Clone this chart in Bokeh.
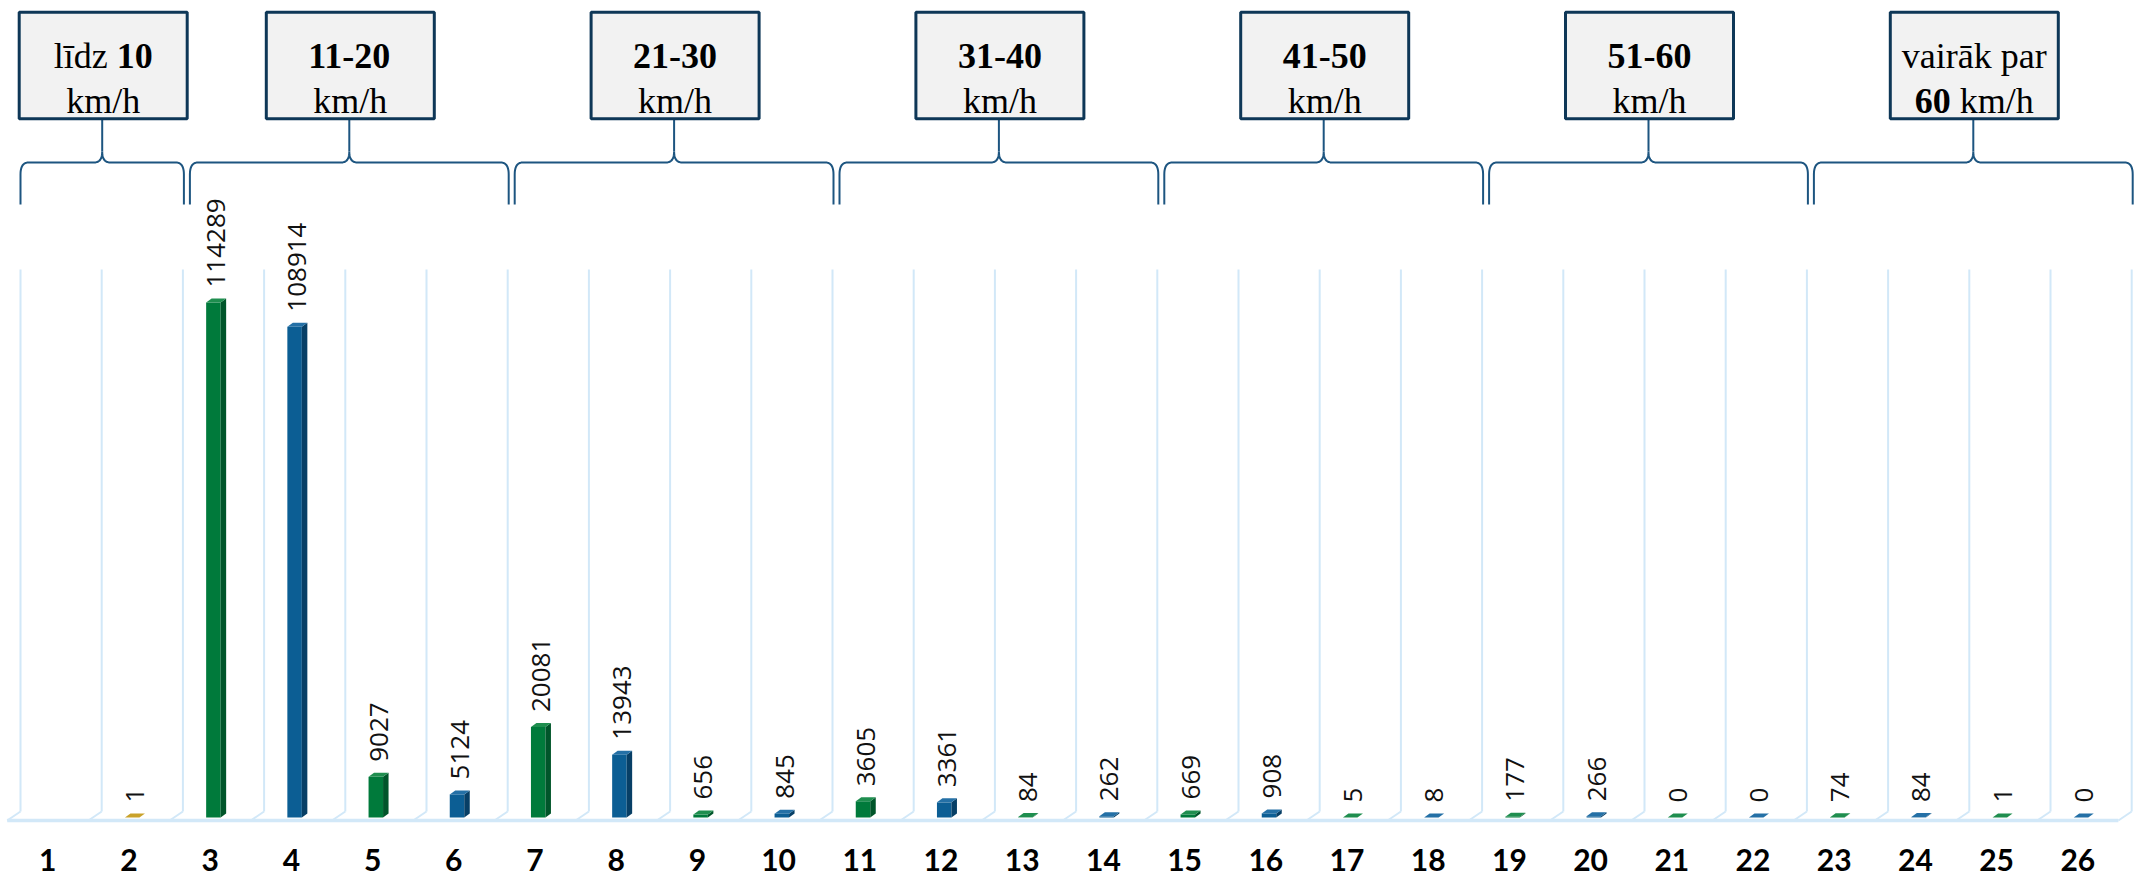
import math
from bokeh.plotting import figure
from bokeh.models import Range1d, ColumnDataSource
from bokeh.core.properties import value
from bokeh.embed import file_html
from bokeh.resources import INLINE

# ---------------- data ----------------
categories = list(range(1, 27))
counts = [None, 1, 114289, 108914, 9027, 5124, 20081, 13943, 656, 845,
          3605, 3361, 84, 262, 669, 908, 5, 8, 177, 266, 0, 0, 74, 84, 1, 0]
group_first = [1, 3, 7, 11, 15, 19, 23]
group_last = [2, 6, 10, 14, 18, 22, 26]
group_labels = [
    [[("līdz ", False), ("10", True)], [("km/h", False)]],
    [[("11-20", True)], [("km/h", False)]],
    [[("21-30", True)], [("km/h", False)]],
    [[("31-40", True)], [("km/h", False)]],
    [[("41-50", True)], [("km/h", False)]],
    [[("51-60", True)], [("km/h", False)]],
    [[("vairāk par", False)], [("60", True), (" km/h", False)]],
]

# ---------------- styling / layout constants ----------------
W, H = 2139, 878
CELL = 81.2          # px per category
FX0 = 6.7            # px of front-floor left edge
DEPTH_X, DEPTH_Y = 13.3, 9.3   # floor depth offsets (px)
ZERO_PY = 817.0      # page y of value 0 (bar front bottom)
K = 515.0 / 114289.0 # px per unit
BAR_W = 14.5 / CELL
BAR_SHIFT = 3.2 / CELL
SIDE_DX = 5.5 / CELL
SIDE_DY = 4.0 / K
LABEL_GAP = 15.0 / K

GREEN, GREEN_SIDE, GREEN_TOP = "#007A3B", "#00552A", "#1F8E4F"
BLUE, BLUE_SIDE, BLUE_TOP = "#0C5E94", "#073F66", "#2470A6"
GOLD, GOLD_SIDE, GOLD_TOP = "#C9A22A", "#9A7A18", "#C9A22A"
GRID = "#D2E8F8"
BRACE = "#1D5580"
BOX_LINE = "#0E3757"
BOX_FILL = "#F2F2F2"

x_start = 0.5 + (0 - FX0) / CELL
x_end = 0.5 + (W - FX0) / CELL

p = figure(width=W, height=H, min_border=0,
           x_range=Range1d(x_start, x_end),
           y_range=Range1d(-(H - ZERO_PY) / K, ZERO_PY / K),
           output_backend="svg", toolbar_location=None,
           x_axis_location=None, y_axis_location=None, outline_line_color=None)
p.extra_x_ranges = {"px": Range1d(0, W)}
p.extra_y_ranges = {"py": Range1d(H, 0)}
p.grid.visible = False
p.background_fill_color = "white"
p.border_fill_color = "white"

# ---------------- floor & back-wall grid ----------------
dxd = DEPTH_X / CELL
gx = [0.5 + k + dxd for k in range(27)]
fx = [0.5 + k for k in range(27)]
p.segment(x0=gx, x1=gx, y0=[269] * 27, y1=[811] * 27, y_range_name="py",
          line_color=GRID, line_width=2)
p.segment(x0=gx, x1=fx, y0=[811] * 27, y1=[820] * 27, y_range_name="py",
          line_color=GRID, line_width=2)
p.segment(x0=[0.5], x1=[26.5], y0=[820], y1=[820], y_range_name="py",
          line_color=GRID, line_width=3.5)

# ---------------- bars (3D look) ----------------
bx, bv, face, side, top = [], [], [], [], []
for c, v in zip(categories, counts):
    if v is None:
        continue
    bx.append(c)
    bv.append(v)
    if c == 2:
        face.append(GOLD); side.append(GOLD_SIDE); top.append(GOLD_TOP)
    elif c % 2 == 1:
        face.append(GREEN); side.append(GREEN_SIDE); top.append(GREEN_TOP)
    else:
        face.append(BLUE); side.append(BLUE_SIDE); top.append(BLUE_TOP)

left = [c + BAR_SHIFT - BAR_W / 2 for c in bx]
right = [c + BAR_SHIFT + BAR_W / 2 for c in bx]
p.quad(left=left, right=right, bottom=[0] * len(bx), top=bv,
       fill_color=face, line_color=None)
side_xs = [[r, r + SIDE_DX, r + SIDE_DX, r] for r in right]
side_ys = [[0, SIDE_DY, v + SIDE_DY, v] for v in bv]
p.patches(side_xs, side_ys, fill_color=side, line_color=None)
top_xs = [[l, r, r + SIDE_DX, l + SIDE_DX] for l, r in zip(left, right)]
top_ys = [[v, v, v + SIDE_DY, v + SIDE_DY] for v in bv]
p.patches(top_xs, top_ys, fill_color=top, line_color=None)

lab_src = ColumnDataSource(dict(
    x=[c + BAR_SHIFT + SIDE_DX / 2 for c in bx],
    y=[v + LABEL_GAP for v in bv],
    t=[str(v) for v in bv]))
p.text(x="x", y="y", text="t", source=lab_src, angle=math.pi / 2,
       text_align="left", text_baseline="middle",
       text_font=value("Open Sans"), text_font_size="26px", text_color="#111111")

# ---------------- category labels ----------------
p.text(x=categories, y=[859] * len(categories), text=[str(c) for c in categories],
       y_range_name="py", text_align="center", text_baseline="middle",
       text_font=value("Lato"), text_font_style="bold", text_font_size="30px",
       text_color="#000000")

# ---------------- braces and group boxes ----------------
def quad_pts(p0, p1, p2, n=10):
    out = []
    for i in range(1, n + 1):
        t = i / n
        x = (1 - t) ** 2 * p0[0] + 2 * (1 - t) * t * p1[0] + t ** 2 * p2[0]
        y = (1 - t) ** 2 * p0[1] + 2 * (1 - t) * t * p1[1] + t ** 2 * p2[1]
        out.append((x, y))
    return out

def brace(L, R, yb=204, yh=162, yt=151, rx=8, ry=12):
    C = (L + R) / 2
    pts = [(L, yb), (L, yh + ry)]
    pts += quad_pts((L, yh + ry), (L, yh), (L + rx, yh))
    pts.append((C - rx, yh))
    pts += quad_pts((C - rx, yh), (C, yh), (C, yt))
    pts += quad_pts((C, yt), (C, yh), (C + rx, yh))
    pts.append((R - rx, yh))
    pts += quad_pts((R - rx, yh), (R, yh), (R, yh + ry))
    pts.append((R, yb))
    return [q[0] for q in pts], [q[1] for q in pts], C

def gpx(k):
    return FX0 + DEPTH_X + k * CELL

REG = {'l': 278, 'ī': 278, 'd': 500, 'z': 444, ' ': 250, 'k': 500, 'm': 778,
       '/': 278, 'h': 500, 'v': 500, 'a': 444, 'i': 278, 'r': 333, 'ā': 444, 'p': 500}
BOLD = {'0': 500, '1': 500, '2': 500, '3': 500, '4': 500, '5': 500, '6': 500,
        '-': 333, ' ': 250}
FS = 36

def run_w(s, bold):
    tab = BOLD if bold else REG
    return sum(tab.get(ch, 500) for ch in s) * FS / 1000.0

bxs, bys, tails_x, box_l, box_r = [], [], [], [], []
tx, ty, tt, tst = [], [], [], []
for g, (a, b) in enumerate(zip(group_first, group_last)):
    L = gpx(a - 1) + (0 if g == 0 else 7)
    R = gpx(b) + 1
    xs, ys, C = brace(L, R)
    bxs.append(xs); bys.append(ys); tails_x.append(C)
    cx = C + 1
    box_l.append(cx - 84); box_r.append(cx + 84)
    for line, base in zip(group_labels[g], [55, 100]):
        Wl = sum(run_w(s, bo) for s, bo in line)
        x0 = cx - Wl / 2
        for s, bo in line:
            lead = len(s) - len(s.lstrip(" "))
            x_text = x0 + run_w(" " * lead, bo)
            tx.append(x_text); ty.append(base); tt.append(s.strip(" "))
            tst.append("bold" if bo else "normal")
            x0 += run_w(s, bo)

p.multi_line(bxs, bys, x_range_name="px", y_range_name="py",
             line_color=BRACE, line_width=2)
p.segment(x0=tails_x, x1=tails_x, y0=[119] * 7, y1=[151] * 7,
          x_range_name="px", y_range_name="py", line_color=BRACE, line_width=2)
p.quad(left=box_l, right=box_r, top=[11.7] * 7, bottom=[118.3] * 7,
       x_range_name="px", y_range_name="py",
       fill_color=BOX_FILL, line_color=BOX_LINE, line_width=3)
p.text(x=tx, y=ty, text=tt, text_font_style=tst, x_range_name="px", y_range_name="py",
       text_align="left", text_baseline="alphabetic",
       text_font=value("Liberation Serif"), text_font_size="36px", text_color="#000000")

open("out.html", "w").write(file_html(p, INLINE))
